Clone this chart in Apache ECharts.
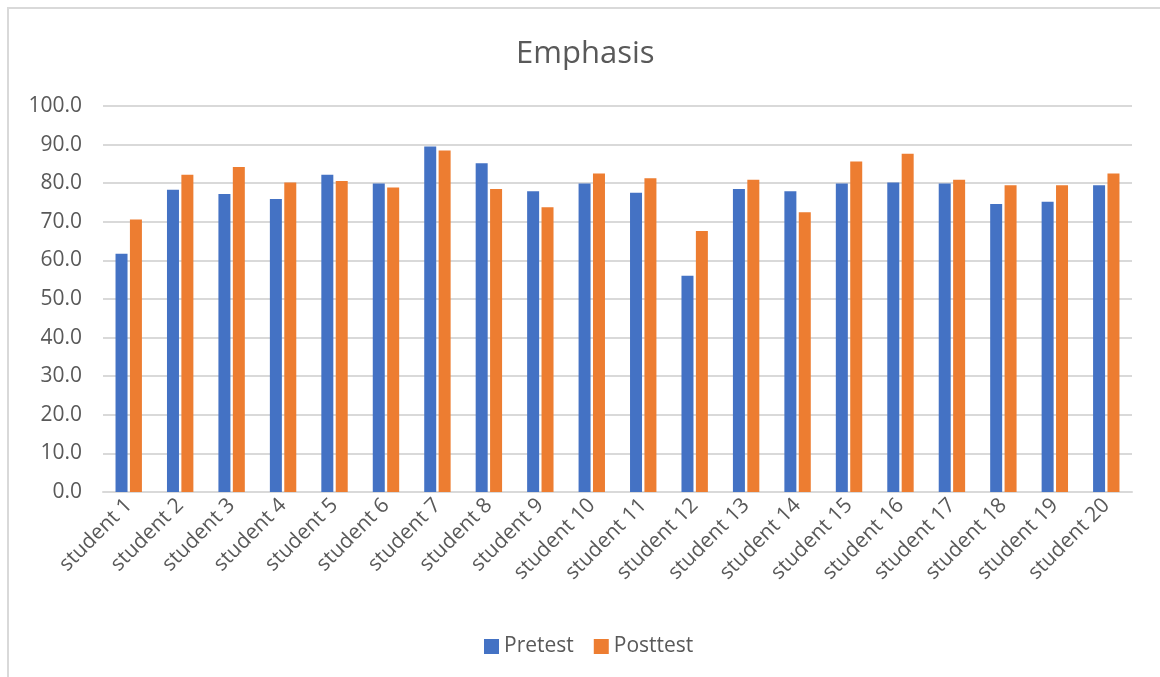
<!DOCTYPE html>
<html>
<head>
<meta charset="utf-8">
<script src="https://cdn.jsdelivr.net/npm/echarts@6/dist/echarts.min.js"></script>
<style>
  html, body { margin: 0; padding: 0; background: #ffffff; }
  #chart { width: 1160px; height: 677px; }
</style>
</head>
<body>
<div id="chart"></div>
<script>
// Students on the x axis
const categories = [
  'student 1', 'student 2', 'student 3', 'student 4', 'student 5',
  'student 6', 'student 7', 'student 8', 'student 9', 'student 10',
  'student 11', 'student 12', 'student 13', 'student 14', 'student 15',
  'student 16', 'student 17', 'student 18', 'student 19', 'student 20'
];

// Emphasis scores before and after
const pretest = [
  61.7, 78.3, 77.2, 75.9, 82.2, 79.9, 89.5, 85.2, 77.9, 79.9,
  77.5, 56.0, 78.5, 77.9, 79.9, 80.2, 79.9, 74.6, 75.2, 79.5
];
const posttest = [
  70.6, 82.2, 84.2, 80.2, 80.6, 78.9, 88.5, 78.5, 73.8, 82.5,
  81.3, 67.6, 80.9, 72.5, 85.6, 87.6, 80.9, 79.5, 79.5, 82.5
];

const seriesNames = ['Pretest', 'Posttest'];
const yTicks = { min: 0, max: 100, interval: 10 };

const font = '"Open Sans", "Noto Sans", sans-serif';
const textColor = '#595959';
const gridColor = '#d9d9d9';

const chart = echarts.init(document.getElementById('chart'), null, { renderer: 'canvas' });

chart.setOption({
  backgroundColor: '#ffffff',
  animation: false,
  title: {
    text: 'Emphasis',
    left: 511,
    top: 34,
    textStyle: { fontFamily: font, fontSize: 31, fontWeight: 'normal', color: textColor }
  },
  graphic: [{
    type: 'rect',
    shape: { x: 8, y: 8, width: 1200, height: 700 },
    style: { fill: 'none', stroke: gridColor, lineWidth: 2 },
    silent: true,
    z: -1
  }],
  legend: {
    data: seriesNames,
    left: 479,
    top: 631,
    itemWidth: 15,
    itemHeight: 15,
    itemGap: 20,
    icon: 'rect',
    textStyle: { fontFamily: font, fontSize: 21, color: textColor }
  },
  grid: { left: 103, right: 28, top: 106, bottom: 185, containLabel: false },
  xAxis: {
    type: 'category',
    data: categories,
    axisLine: { lineStyle: { color: gridColor, width: 2 } },
    axisTick: { show: false },
    axisLabel: {
      rotate: 45,
      interval: 0,
      margin: 10,
      fontFamily: font,
      fontSize: 21,
      color: textColor
    }
  },
  yAxis: {
    type: 'value',
    min: yTicks.min,
    max: yTicks.max,
    interval: yTicks.interval,
    axisLine: { show: false },
    axisTick: { show: false },
    splitLine: { lineStyle: { color: gridColor, width: 2 } },
    axisLabel: {
      margin: 21,
      fontFamily: font,
      fontSize: 21,
      color: textColor,
      formatter: v => v.toFixed(1)
    }
  },
  series: [
    {
      name: seriesNames[0],
      type: 'bar',
      data: pretest,
      barWidth: 12,
      barGap: '20%',
      itemStyle: { color: '#4472C4' }
    },
    {
      name: seriesNames[1],
      type: 'bar',
      data: posttest,
      barWidth: 12,
      barGap: '20%',
      itemStyle: { color: '#ED7D31' }
    }
  ]
});
</script>
</body>
</html>
